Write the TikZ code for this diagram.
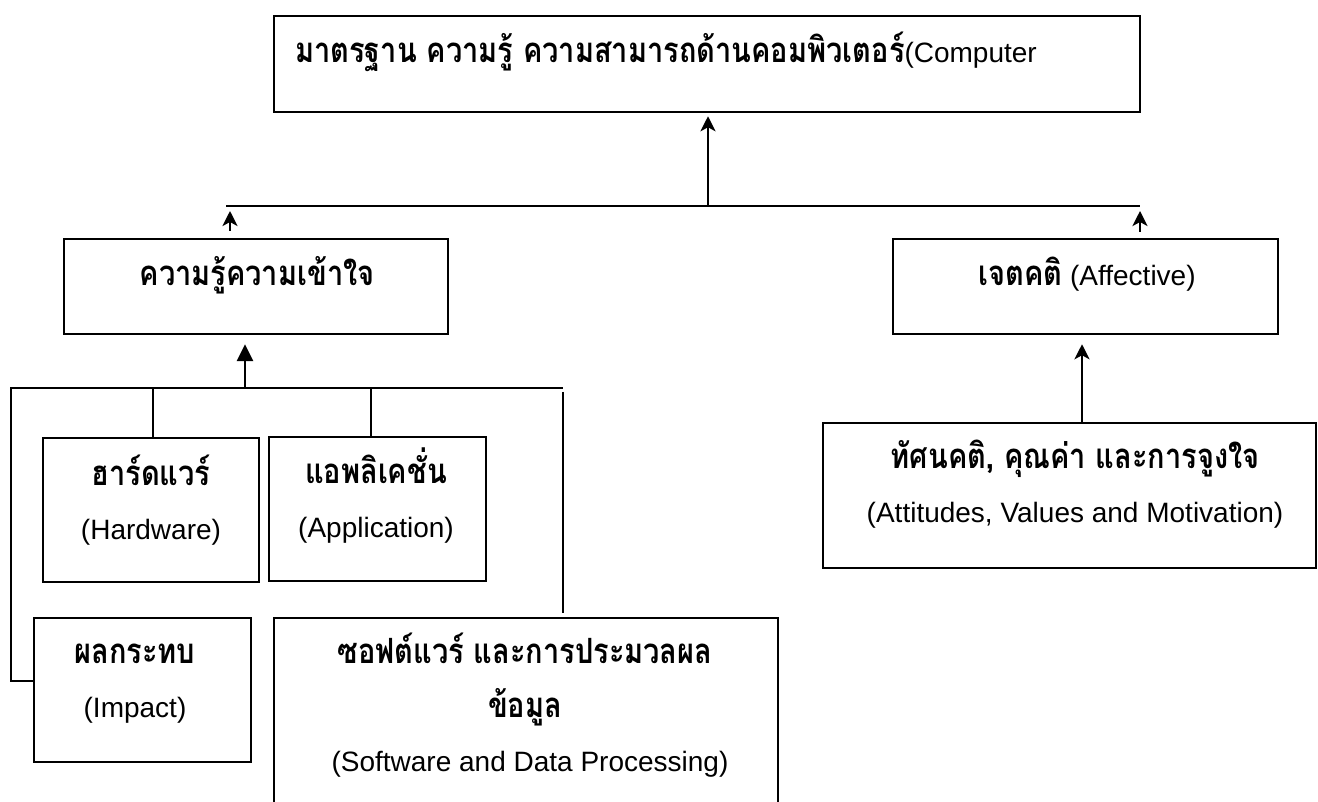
\documentclass[tikz,border=0pt]{standalone}
\usepackage{fontspec}
\usepackage{graphicx}
\setmainfont{Liberation Sans}
\newfontfamily\thaifont[Script=Thai,Scale=1.035]{Loma}
\usetikzlibrary{arrows.meta}
\newcommand\thb[1]{\scalebox{1}[1.2]{\thaifont\bfseries #1}}
\begin{document}
\begin{tikzpicture}[x=1pt,y=-1pt,
  box/.style={draw, line width=2.5pt, inner sep=0pt},
  lbl/.style={anchor=base, inner sep=0pt, font=\fontsize{28}{34}\selectfont},
  conn/.style={line width=2.2pt},
  uptip/.style={-{Stealth[length=15pt,width=15pt,inset=4pt]}, line width=2.8pt},
  filltip/.style={-{Triangle[length=17pt,width=16pt]}, line width=2.8pt}]
\useasboundingbox (0,0) rectangle (1318,802);
\clip (0,0) rectangle (1318,802);
% boxes
\node[box, minimum width=866pt, minimum height=96pt] (top) at (707,64) {};
\node[box, minimum width=384pt, minimum height=95pt] (know) at (256,286.5) {};
\node[box, minimum width=385pt, minimum height=95pt] (aff) at (1085.5,286.5) {};
\node[box, minimum width=216pt, minimum height=144pt] (hw) at (151,510) {};
\node[box, minimum width=217pt, minimum height=144pt] (app) at (377.5,509) {};
\node[box, minimum width=217pt, minimum height=144pt] (imp) at (142.5,690) {};
\node[box, minimum width=504pt, minimum height=222pt] (sw) at (526,729) {};
\node[box, minimum width=493pt, minimum height=145pt] (att) at (1069.5,495.5) {};
% texts
\node[lbl, anchor=base west] (ttop) at (295,63) {\thb{มาตรฐาน ความรู้ ความสามารถด้านคอมพิวเตอร์}(Computer};
\node[lbl] (tknow) at (257,286) {\thb{ความรู้ความเข้าใจ}};
\node[lbl] (taff) at (1087,286) {\thb{เจตคติ} (Affective)};
\node[lbl] (thw1) at (151,485) {\thb{ฮาร์ดแวร์}};
\node[lbl] (thw2) at (151,539) {(Hardware)};
\node[lbl] (tapp1) at (376,483) {\thb{แอพลิเคชั่น}};
\node[lbl] (tapp2) at (376,537) {(Application)};
\node[lbl] (timp1) at (135,663) {\thb{ผลกระทบ}};
\node[lbl] (timp2) at (135,717) {(Impact)};
\node[lbl] (tsw1) at (525,663) {\thb{ซอฟต์แวร์ และการประมวลผล}};
\node[lbl] (tsw2) at (525,717) {\thb{ข้อมูล}};
\node[lbl] (tsw3) at (530,771) {(Software and Data Processing)};
\node[lbl] (tatt1) at (1075,468) {\thb{ทัศนคติ, คุณค่า และการจูงใจ}};
\node[lbl] (tatt2) at (1075,522) {(Attitudes, Values and Motivation)};
% upper connectors
\coordinate (hl) at (226,206);
\coordinate (hr) at (1140,206);
\coordinate (hm) at (708,206);
\draw[conn] (hl) -- (hr);
\draw[uptip] (hm) -- ([yshift=-3pt]hm |- top.south);
\coordinate (ka) at (230,231);
\coordinate (kb) at (230,211);
\draw[uptip] (ka) -- (kb);
\coordinate (aa1) at (1140,232);
\coordinate (aa2) at (1140,211);
\draw[uptip] (aa1) -- (aa2);
% lower-left bus
\coordinate (bl) at (11,388);
\coordinate (br) at (563,388);
\coordinate (bm) at (245,388);
\coordinate (ij) at (11,681);
\draw[conn] (imp.west |- ij) -- (ij) -- (bl) -- (br);
\draw[conn] ([yshift=-4pt]br) -- ([yshift=4pt]br |- sw.north);
\coordinate (hwt) at (153,388);
\draw[conn] (hwt) -- (hwt |- hw.north);
\coordinate (apt) at (371,388);
\draw[conn] (apt) -- (apt |- app.north);
\draw[filltip] (bm) -- ([yshift=-9pt]bm |- know.south);
% right arrow
\coordinate (ax) at (1082,400);
\draw[uptip] (ax |- att.north) -- ([yshift=-9pt]ax |- aff.south);
\end{tikzpicture}
\end{document}
